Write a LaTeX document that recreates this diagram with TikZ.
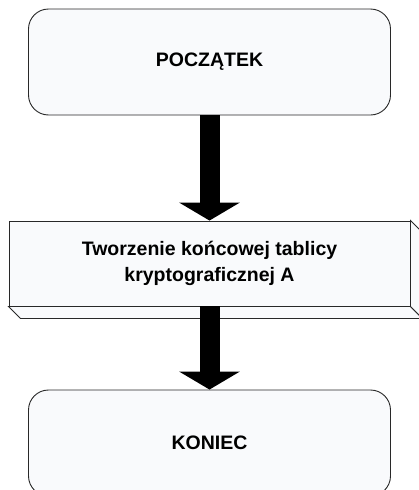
\documentclass[tikz,border=0pt]{standalone}
\usepackage{fontspec}
\setmainfont{Liberation Sans}
\usetikzlibrary{arrows.meta,calc}
\definecolor{boxfill}{RGB}{249,250,252}
\definecolor{boxline}{RGB}{40,40,40}
\begin{document}
\begin{tikzpicture}[x=1pt,y=-1pt,
  term/.style={draw=boxline, fill=boxfill, line width=0.9pt, rounded corners=20pt,
    minimum width=362pt, minimum height=106pt, inner sep=0pt,
    font=\fontsize{19.5}{23}\selectfont\bfseries},
  procbox/.style={draw=boxline, fill=boxfill, line width=0.9pt,
    minimum width=401pt, minimum height=85pt, inner sep=0pt, align=center,
    font=\fontsize{19.5}{26}\selectfont\bfseries},
  side/.style={draw=boxline, fill=boxfill, line width=0.9pt, line join=miter},
  flow/.style={line width=20pt, black, -{Triangle[width=60pt,length=18pt]}}]
\useasboundingbox (0,0) rectangle (419,490);
\clip (0,0) rectangle (419,490);
\node[term] (start) at (209.5,62) {POCZĄTEK};
\node[procbox] (proc) at (209.5,263.5) {Tworzenie końcowej tablicy\\kryptograficznej A};
\draw[side] (proc.south west) -- ++(12,12) -- ($(proc.south east)+(12,12)$) -- (proc.south east) -- cycle;
\draw[side] (proc.north east) -- ++(12,12) -- ($(proc.south east)+(12,12)$) -- (proc.south east) -- cycle;
\node[term] (end) at (209.5,443) {KONIEC};
\draw[flow] (start.south) -- (proc.north);
\draw[flow] (proc.south) -- (end.north);
\end{tikzpicture}
\end{document}
